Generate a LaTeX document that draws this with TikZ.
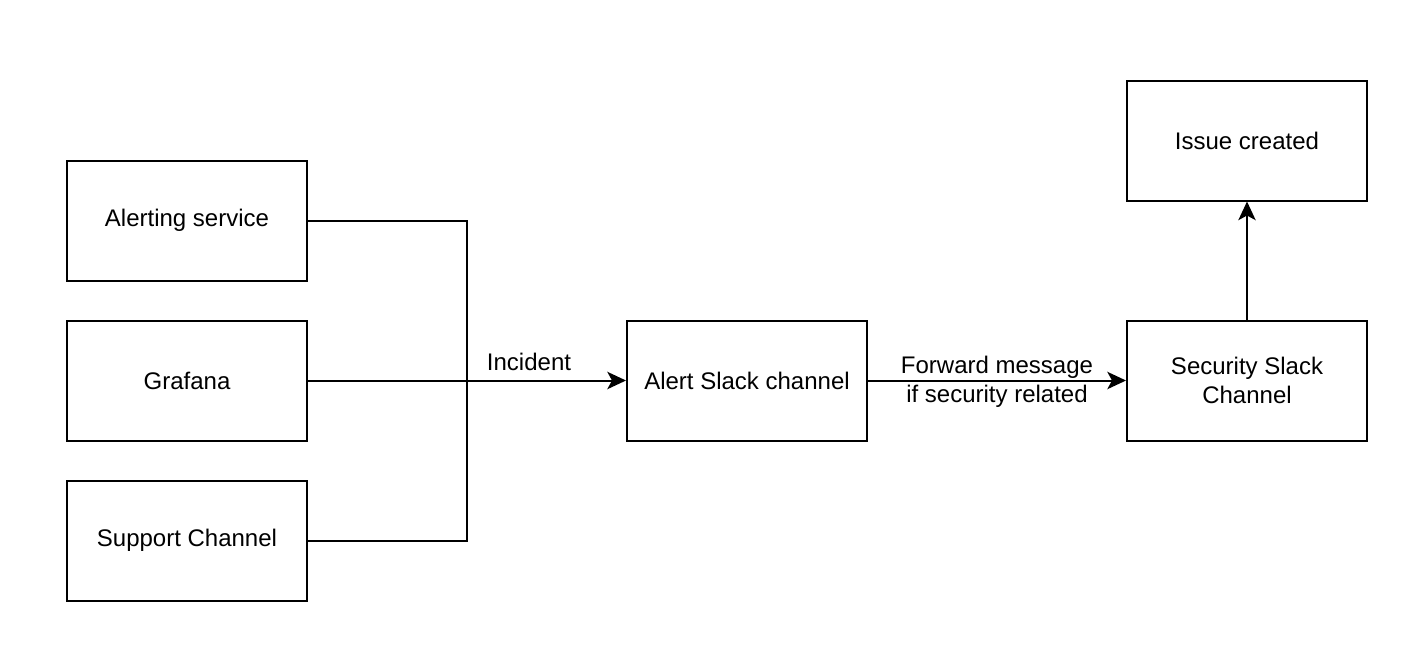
\documentclass[tikz,border=0pt]{standalone}
\usepackage{fontspec}
\setmainfont{Liberation Sans}
\usetikzlibrary{arrows.meta}
\begin{document}
\begin{tikzpicture}[x=0.75pt,y=-0.75pt,
  box/.style={draw=black,line width=1.5pt,fill=white,minimum width=180pt,minimum height=90pt,align=center,inner sep=0pt,font=\fontsize{18}{21.75}\selectfont},
  conn/.style={line width=1.5pt,draw=black},
  arr/.style={conn,-{Stealth[length=14pt,width=13pt,inset=3.5pt]}},
  lbl/.style={align=center,inner sep=0pt,font=\fontsize{18}{21.75}\selectfont}]
\useasboundingbox (0,0) rectangle (1416,644);
\node[box] (alerting) at (187,220.5) {Alerting service};
\node[box] (grafana) at (187,380.5) {Grafana};
\node[box] (support) at (187,540.5) {Support Channel};
\node[box] (alert) at (747,380.5) {Alert Slack channel};
\node[box] (security) at (1247,380.5) {Security Slack\\Channel};
\node[box] (issue) at (1247,140.5) {Issue created};
\coordinate (j) at (467,380.5);
\draw[conn] (alerting.east) -| (j);
\draw[conn] (support.east) -| (j);
\draw[arr] (grafana.east) -- (alert.west);
\draw[arr] (alert.east) -- (security.west);
\draw[arr] (security.north) -- (issue.south);
\node[lbl] (incident) at (529,362) {Incident};
\node[lbl] (fwd) at (997,382) {Forward message\\if security related};
\end{tikzpicture}
\end{document}
